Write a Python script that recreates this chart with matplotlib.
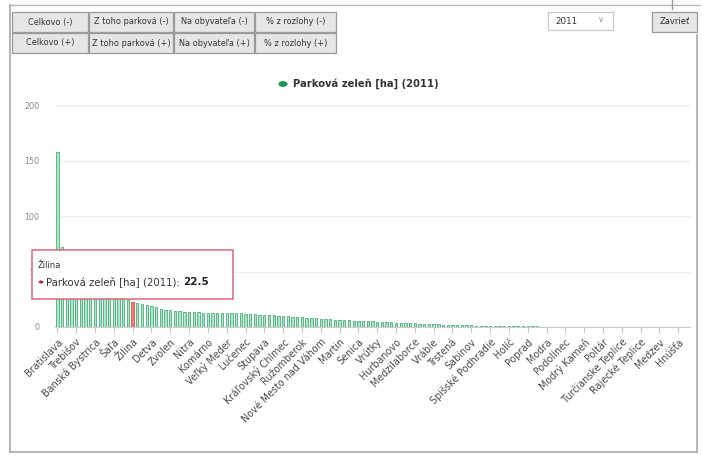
import matplotlib
matplotlib.use("Agg")
import matplotlib.pyplot as plt
from matplotlib.patches import Rectangle, Circle

plt.rcParams['font.family'] = ['DejaVu Sans']

# ---------------- data ----------------
series_name = "Parková zeleň [ha] (2011)"
values = [
    158.0, 72.0, 40.0, 36.0, 34.0, 33.0, 32.0, 31.0, 30.0, 29.5,
    29.0, 28.5, 28.0, 27.5, 27.0, 24.0, 22.5, 21.8, 21.0, 20.0,
    19.0, 18.0, 16.5, 15.5, 15.0, 14.5, 14.0, 13.8, 13.6, 13.4,
    13.2, 13.0, 12.9, 12.8, 12.7, 12.6, 12.5, 12.4, 12.3, 12.2,
    12.0, 11.8, 11.5, 11.2, 11.0, 10.7, 10.4, 10.1, 9.8, 9.5,
    9.2, 9.0, 8.7, 8.4, 8.1, 7.8, 7.5, 7.2, 7.0, 6.7,
    6.4, 6.2, 6.0, 5.8, 5.6, 5.4, 5.2, 5.0, 4.8, 4.6,
    4.4, 4.2, 4.0, 3.8, 3.6, 3.4, 3.2, 3.0, 2.8, 2.6,
    2.5, 2.3, 2.2, 2.0, 1.9, 1.8, 1.6, 1.5, 1.4, 1.3,
    1.2, 1.1, 1.0, 0.9, 0.8, 0.8, 0.7, 0.7, 0.6, 0.6,
    0.5, 0.5, 0.5, 0.4, 0.4, 0.4, 0.3, 0.3, 0.3, 0.3,
    0.2, 0.2, 0.2, 0.2, 0.2, 0.2, 0.2, 0.2, 0.2, 0.2,
    0.1, 0.1, 0.1, 0.1, 0.1, 0.1, 0.1, 0.1, 0.1, 0.1,
    0.05, 0.05, 0.05, 0.05, 0.05,
]
tick_labels = [
    "Bratislava", "Trebišov", "Banská Bystrica", "Šaľa", "Žilina", "Detva",
    "Zvolen", "Nitra", "Komárno", "Veľký Meder", "Lučenec", "Stupava",
    "Kráľovský Chlmec", "Ružomberok", "Nové Mesto nad Váhom", "Martin",
    "Senica", "Vrútky", "Hurbanovo", "Medzilaborce", "Vráble", "Trstená",
    "Sabinov", "Spišské Podhradie", "Holíč", "Poprad", "Modra", "Podolínec",
    "Modrý Kameň", "Poltár", "Turčianske Teplice", "Rajecké Teplice",
    "Medzev", "Hnúšťa",
]
label_step = 4
highlight_name = "Žilina"
highlight_index = 16
y_ticks = [0, 50, 100, 150, 200]
year = "2011"
buttons_row1 = ["Celkovo (-)", "Z toho parková (-)", "Na obyvateľa (-)", "% z rozlohy (-)"]
buttons_row2 = ["Celkovo (+)", "Z toho parková (+)", "Na obyvateľa (+)", "% z rozlohy (+)"]

# ---------------- figure ----------------
W, H = 702, 455
fig = plt.figure(figsize=(W / 100, H / 100), dpi=100)
fig.patch.set_facecolor("white")


def fx(x):
    return x / W


def fy(y):
    return 1 - y / H


def frect(x0, y0, x1, y1, **kw):
    r = Rectangle((fx(x0), fy(y1)), fx(x1) - fx(x0), fy(y0) - fy(y1),
                  transform=fig.transFigure, **kw)
    fig.add_artist(r)
    return r


def fline(xs, ys, **kw):
    fig.add_artist(plt.Line2D([fx(x) for x in xs], [fy(y) for y in ys],
                              transform=fig.transFigure, **kw))


# container border
fline([10, 700], [5, 5], color="#b8b8b8", lw=1)
fline([10, 10], [5, 452], color="#a8a8a8", lw=1.2)
fline([10, 697], [452, 452], color="#a8a8a8", lw=1.2)
fline([697, 697], [35, 452], color="#a8a8a8", lw=1.2)
fline([672, 672], [0, 9], color="#999999", lw=1)

# buttons
bx = [(12, 88), (89, 173), (174, 254), (255, 336)]
for row, labels, (y0, y1) in [(0, buttons_row1, (12, 32)), (1, buttons_row2, (33, 53))]:
    for (x0, x1), lab in zip(bx, labels):
        frect(x0, y0, x1, y1, facecolor="#e6e6e6", edgecolor="#9a9a9a", lw=0.9)
        fig.text(fx((x0 + x1) / 2), fy((y0 + y1) / 2), lab, ha="center", va="center",
                 fontsize=5.9, color="#333333")

# year dropdown
frect(548, 12, 613, 30, facecolor="white", edgecolor="#c8c8c8", lw=0.9)
fig.text(fx(566), fy(21), year, ha="center", va="center", fontsize=6.3, color="#333333")
fig.text(fx(601), fy(20), "∨", ha="center", va="center", fontsize=6, color="#999999")

# close button
frect(652, 12, 697, 32, facecolor="#e6e6e6", edgecolor="#9a9a9a", lw=0.9)
fig.text(fx(674.5), fy(22), "Zavrieť", ha="center", va="center", fontsize=6.0, color="#333333")

# legend
fig.add_artist(Circle((fx(283), fy(84)), 4.5 / W, transform=fig.transFigure,
                      facecolor="#1a9a50", edgecolor="none"))
fig.text(fx(293), fy(84), series_name, ha="left", va="center", fontsize=7.2,
         color="#333333", fontweight="bold")

# ---------------- plot area ----------------
x_left, x_right = 55, 690
y_zero, y_top = 327, 105
ax = fig.add_axes([fx(x_left), fy(y_zero), fx(x_right) - fx(x_left), fy(y_top) - fy(y_zero)])
ax.set_facecolor("white")
n = len(values)
xs = list(range(n))
colors = ["#f08080" if i == highlight_index else "#a6ecc8" for i in xs]
edges = ["#d83030" if i == highlight_index else "#2f9e60" for i in xs]
ax.bar(xs, values, width=0.5, color=colors, edgecolor=edges, linewidth=0.5, zorder=3)
ax.set_xlim(-0.5, n - 0.5)
ax.set_ylim(0, 200)
ax.set_yticks(y_ticks)
ax.set_yticklabels([str(v) for v in y_ticks])
ax.tick_params(axis="y", length=0, pad=11.5, labelsize=5.8, labelcolor="#8a8a8a")
ax.yaxis.grid(True, color="#eeeeee", lw=1, zorder=0)
tick_pos = list(range(0, n, label_step))[:len(tick_labels)]
ax.set_xticks(tick_pos)
ax.set_xticklabels(tick_labels, rotation=45, ha="right", va="top",
                   rotation_mode="anchor", fontsize=6.9, color="#4a4a4a")
ax.tick_params(axis="x", length=4, color="#cccccc", pad=3)
for s in ["top", "right", "left"]:
    ax.spines[s].set_visible(False)
ax.spines["bottom"].set_color("#cccccc")

# tooltip
frect(32, 250, 233, 299, facecolor=(1, 1, 1, 0.96), edgecolor="#d46a7a", lw=1.1, zorder=10)
fig.text(fx(38), fy(265), highlight_name, ha="left", va="center", fontsize=6.0,
         color="#333333", zorder=11)
fig.add_artist(Circle((fx(41), fy(282)), 2.3 / W, transform=fig.transFigure,
                      facecolor="#b02030", edgecolor="none", zorder=11))
t1 = fig.text(fx(46), fy(282), series_name + ": ", ha="left", va="center",
              fontsize=7.3, color="#333333", zorder=11)
fig.canvas.draw()
bb = t1.get_window_extent()
fig.text(bb.x1 / W, fy(282), f"{values[highlight_index]}", ha="left", va="center",
         fontsize=7.5, color="#222222", fontweight="bold", zorder=11)

fig.savefig("out.png", dpi=100)
